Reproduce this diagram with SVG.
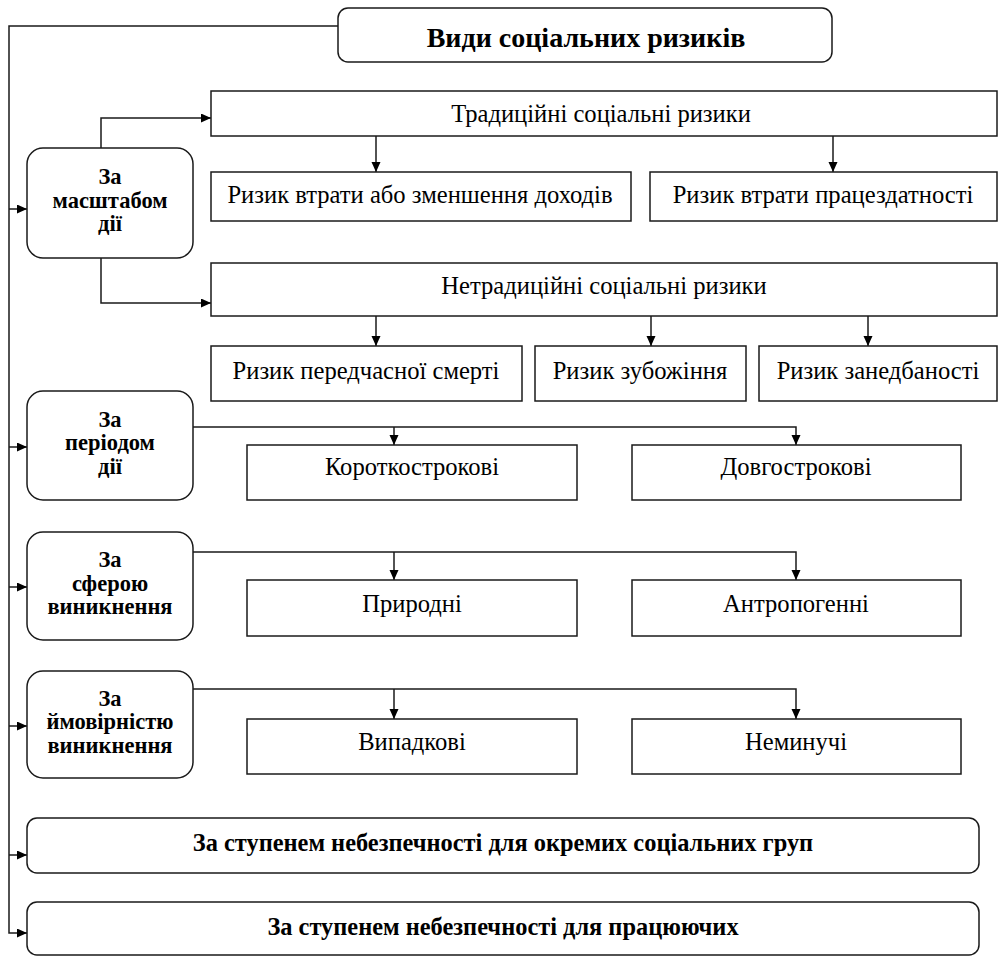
<svg xmlns="http://www.w3.org/2000/svg" width="1000" height="956" viewBox="0 0 1000 956">
<style>
.box{fill:#fff;stroke:#1a1a1a;stroke-width:1.5}
.ln{fill:none;stroke:#1a1a1a;stroke-width:1.5}
text{font-family:"Liberation Serif","Times New Roman","DejaVu Serif",serif;fill:#000;text-anchor:middle}
.t{font-size:24.6px}
.b{font-size:22.5px;font-weight:bold}
.h{font-size:28px;font-weight:bold}
.s{font-size:24.4px;font-weight:bold}
</style>
<defs>
<marker id="ah" markerUnits="userSpaceOnUse" markerWidth="10" markerHeight="10" refX="10" refY="4.5" orient="auto">
<path d="M0,0 L10,4.5 L0,9 z" fill="#000"/>
</marker>
</defs>
<rect width="1000" height="956" fill="#fff"/>
<g id="connectors">
<polyline class="ln" points="338,26 9,26 9,933 27,933" marker-end="url(#ah)"/>
<line class="ln" x1="9" y1="209" x2="27" y2="209" marker-end="url(#ah)"/>
<line class="ln" x1="9" y1="447" x2="27" y2="447" marker-end="url(#ah)"/>
<line class="ln" x1="9" y1="587" x2="27" y2="587" marker-end="url(#ah)"/>
<line class="ln" x1="9" y1="726" x2="27" y2="726" marker-end="url(#ah)"/>
<line class="ln" x1="9" y1="855" x2="27" y2="855" marker-end="url(#ah)"/>
<polyline class="ln" points="101,148 101,118 211,118" marker-end="url(#ah)"/>
<polyline class="ln" points="101,258 101,303 211,303" marker-end="url(#ah)"/>
<line class="ln" x1="376" y1="136" x2="376" y2="172" marker-end="url(#ah)"/>
<line class="ln" x1="833" y1="136" x2="833" y2="172" marker-end="url(#ah)"/>
<line class="ln" x1="376" y1="316" x2="376" y2="346" marker-end="url(#ah)"/>
<line class="ln" x1="651" y1="316" x2="651" y2="346" marker-end="url(#ah)"/>
<line class="ln" x1="868" y1="316" x2="868" y2="346" marker-end="url(#ah)"/>
<polyline class="ln" points="193,427 796,427 796,445" marker-end="url(#ah)"/>
<line class="ln" x1="394" y1="427" x2="394" y2="445" marker-end="url(#ah)"/>
<polyline class="ln" points="193,552 796,552 796,580" marker-end="url(#ah)"/>
<line class="ln" x1="394" y1="552" x2="394" y2="580" marker-end="url(#ah)"/>
<polyline class="ln" points="193,689 796,689 796,719" marker-end="url(#ah)"/>
<line class="ln" x1="394" y1="689" x2="394" y2="719" marker-end="url(#ah)"/>
</g>
<g id="title"><rect class="box" x="338" y="8" width="494" height="54" rx="10"/><text class="h" x="586" y="46.5">Види соціальних ризиків</text></g>
<g id="traditional"><rect class="box" x="211" y="91" width="786" height="45"/><text class="t" x="601" y="121.5">Традиційні соціальні ризики</text></g>
<g id="income"><rect class="box" x="211" y="172" width="420" height="49"/><text class="t" x="420" y="203">Ризик втрати або зменшення доходів</text></g>
<g id="workability"><rect class="box" x="650" y="172" width="347" height="49"/><text class="t" x="823" y="203">Ризик втрати працездатності</text></g>
<g id="scale"><rect class="box" x="27" y="148" width="166" height="110" rx="16"/><text class="b" x="110" y="184">За</text><text class="b" x="110" y="207.5">масштабом</text><text class="b" x="110" y="231">дії</text></g>
<g id="nontraditional"><rect class="box" x="211" y="263" width="786" height="53"/><text class="t" x="604" y="293.5">Нетрадиційні соціальні ризики</text></g>
<g id="death"><rect class="box" x="211" y="346" width="311" height="55"/><text class="t" x="366" y="378.5">Ризик передчасної смерті</text></g>
<g id="poverty"><rect class="box" x="535" y="346" width="211" height="55"/><text class="t" x="640" y="378.5">Ризик зубожіння</text></g>
<g id="neglect"><rect class="box" x="759" y="346" width="238" height="55"/><text class="t" x="878" y="378.5">Ризик занедбаності</text></g>
<g id="period"><rect class="box" x="27" y="391" width="166" height="109" rx="16"/><text class="b" x="110" y="426.5">За</text><text class="b" x="110" y="450">періодом</text><text class="b" x="110" y="473.5">дії</text></g>
<g id="short"><rect class="box" x="247" y="445" width="330" height="55"/><text class="t" x="412" y="474.5">Короткострокові</text></g>
<g id="long"><rect class="box" x="632" y="445" width="329" height="55"/><text class="t" x="796" y="474.5">Довгострокові</text></g>
<g id="sphere"><rect class="box" x="27" y="532" width="166" height="108" rx="16"/><text class="b" x="110" y="567">За</text><text class="b" x="110" y="590.5">сферою</text><text class="b" x="110" y="614">виникнення</text></g>
<g id="natural"><rect class="box" x="247" y="580" width="330" height="56"/><text class="t" x="412" y="612">Природні</text></g>
<g id="anthropogenic"><rect class="box" x="632" y="580" width="329" height="56"/><text class="t" x="796" y="612">Антропогенні</text></g>
<g id="probability"><rect class="box" x="27" y="671" width="166" height="107" rx="16"/><text class="b" x="110" y="705.5">За</text><text class="b" x="110" y="729">ймовірністю</text><text class="b" x="110" y="752.5">виникнення</text></g>
<g id="random"><rect class="box" x="247" y="719" width="330" height="55"/><text class="t" x="412" y="750">Випадкові</text></g>
<g id="inevitable"><rect class="box" x="632" y="719" width="329" height="55"/><text class="t" x="796" y="750">Неминучі</text></g>
<g id="groups"><rect class="box" x="27" y="818" width="952" height="55" rx="10"/><text class="s" x="503" y="851">За ступенем небезпечності для окремих соціальних груп</text></g>
<g id="workers"><rect class="box" x="27" y="902" width="952" height="53" rx="10"/><text class="s" x="503" y="935">За ступенем небезпечності для працюючих</text></g>
</svg>
